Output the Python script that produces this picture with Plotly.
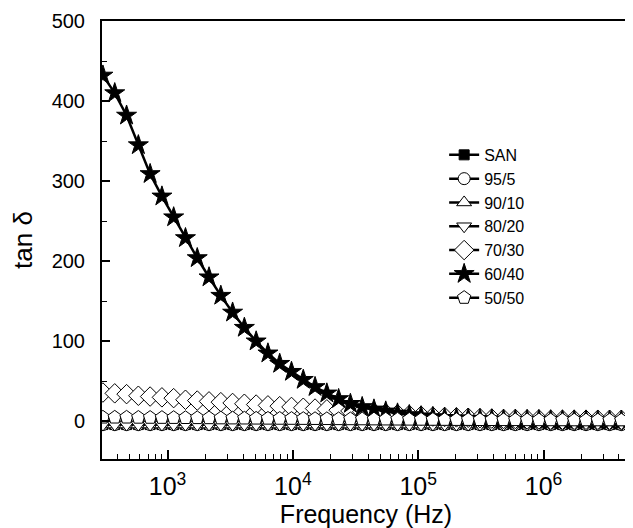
import plotly.graph_objects as go

# Frequency points (Hz)
freq = [305, 379, 471, 585, 726, 902, 1119, 1390, 1726, 2143, 2661, 3304, 4102, 5093,
        6324, 7852, 9750, 12106, 15031, 18664, 23174, 28774, 35727, 44361, 55081, 68391,
        84918, 105439, 130918, 162555, 201837, 250611, 311170, 386367, 479733, 595662,
        739605, 918333, 1140250, 1415794, 1757924, 2182734, 2710192, 3365083, 4178303]

san = [-4] * 45
s95_5 = [-4] * 45
s90_10 = [-4] * 45
s80_20 = [-4] * 45
s70_30 = [36, 35, 34, 32, 31, 30, 29, 27, 26, 25, 24, 23, 22, 21, 20, 19, 18, 17, 16, 15,
          14, 13, 12, 11, 10, 9, 8, 7, 6, 5.5, 5, 4.5, 4, 3.5, 3, 3, 2.5, 2.5, 2, 2, 2, 2, 2, 2, 2]
s60_40 = [432, 410, 382, 345, 309, 281, 255, 229, 204, 180, 157, 136, 117, 100, 85, 72, 62,
          52, 43, 35, 28, 22, 18, 15, 12.5, 10, 8, 6.5, 5.5, 4.5, 4, 3.5, 3, 2.5, 2.2, 2, 1.8,
          1.6, 1.5, 1.4, 1.3, 1.2, 1.1, 1.0, 1.0]
s50_50 = [5, 5, 5, 4.8, 4.7, 4.6, 4.5, 4.4, 4.3, 4.2, 4, 3.9, 3.8, 3.7, 3.6, 3.5, 3.4, 3.3,
          3.2, 3.1, 3, 2.9, 2.8, 2.7, 2.6, 2.5, 2.4, 2.3, 2.2, 2.1, 2, 2, 1.9, 1.9, 1.8, 1.8,
          1.7, 1.7, 1.6, 1.6, 1.5, 1.5, 1.5, 1.5, 1.5]

series = [
    ("SAN", san, "square", "black", 10),
    ("95/5", s95_5, "circle", "white", 12),
    ("90/10", s90_10, "triangle-up", "white", 13),
    ("80/20", s80_20, "triangle-down", "white", 13),
    ("70/30", s70_30, "diamond", "white", 15),
    ("60/40", s60_40, "star", "black", 15),
    ("50/50", s50_50, "pentagon", "white", 14),
]

fig = go.Figure()
for name, vals, sym, fill, size in series:
    fig.add_trace(go.Scatter(
        x=freq, y=vals, name=name, mode="lines+markers",
        line=dict(color="black", width=2.5),
        marker=dict(symbol=sym, size=size, color=fill,
                    line=dict(color="black", width=1)),
    ))

font = "Liberation Sans, Arial, sans-serif"
# the page body has an 8 px margin, so the figure is 8 px smaller and shifted
fig.update_layout(
    width=625, height=520,
    margin=dict(l=94, r=1, t=13, b=69),
    paper_bgcolor="white", plot_bgcolor="white",
    font=dict(family=font, color="black", size=19),
    showlegend=True,
    legend=dict(x=0.648, y=0.733, xanchor="left", yanchor="top",
                bgcolor="rgba(0,0,0,0)", font=dict(size=16),
                tracegroupgap=0, itemwidth=30),
)
fig.update_xaxes(
    type="log", range=[2.477, 6.69],
    showgrid=False, zeroline=False,
    showline=True, linecolor="black", linewidth=2, mirror=True,
    ticks="inside", ticklen=9, tickwidth=1.5, tickcolor="black",
    dtick=1, exponentformat="power",
    tickfont=dict(size=20), ticklabelstandoff=5,
    minor=dict(ticks="inside", ticklen=5, tickwidth=1.2, tickcolor="black", dtick="D1", showgrid=False),
    title=dict(text="Frequency (Hz)", font=dict(size=25), standoff=6),
)
fig.update_yaxes(
    range=[-47, 500],
    showgrid=False, zeroline=False,
    showline=True, linecolor="black", linewidth=2, mirror=True,
    ticks="inside", ticklen=8, tickwidth=1.5, tickcolor="black",
    tickmode="linear", tick0=0, dtick=100,
    tickfont=dict(size=20), ticklabelstandoff=11,
    minor=dict(ticks="inside", ticklen=5, tickwidth=1.2, tickcolor="black", dtick=50, showgrid=False),
    title=dict(text="tan δ", font=dict(size=26), standoff=18),
)
fig.write_html("out.html")
